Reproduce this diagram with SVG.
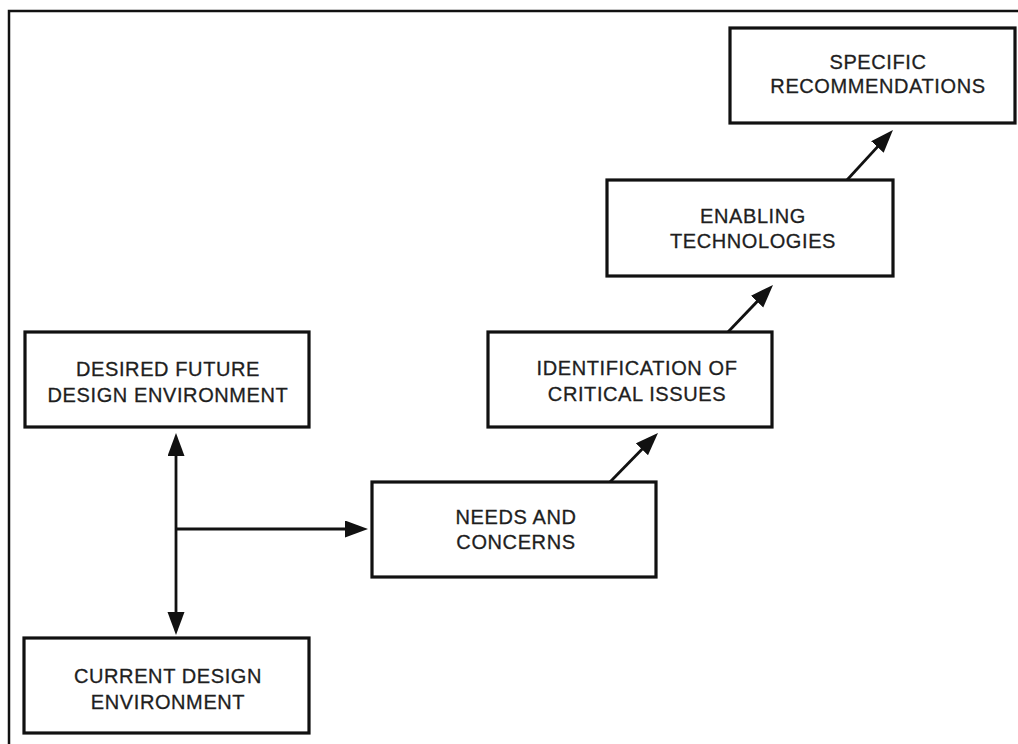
<svg xmlns="http://www.w3.org/2000/svg" width="1018" height="744" viewBox="0 0 1018 744">
<style>
.box{fill:#fff;stroke:#111;stroke-width:3.2}
.lbl{font-family:"Liberation Sans",Arial,sans-serif;font-size:20px;fill:#1e1e1e;stroke:#1e1e1e;stroke-width:0.3;text-anchor:middle;letter-spacing:0.6px}
.con{fill:none;stroke:#111;stroke-width:2.8}
.frame{fill:none;stroke:#111;stroke-width:2.5}
</style>
<defs>
<marker id="ah" markerUnits="userSpaceOnUse" markerWidth="25" markerHeight="19" refX="12" refY="8.5" orient="auto-start-reverse" viewBox="0 0 25 19">
<path d="M0,0 L23,8.5 L0,17 z" fill="#111"/>
</marker>
</defs>
<rect width="1018" height="744" fill="#fff"/>
<path class="frame" d="M9,744 V11 H1018"/>
<g id="connectors">
<path class="con" d="M176,444 V624" marker-start="url(#ah)" marker-end="url(#ah)"/>
<path class="con" d="M176,529 H357" marker-end="url(#ah)"/>
<path class="con" d="M610,482 L650.3,440.8" marker-end="url(#ah)"/>
<path class="con" d="M728,332 L765.4,292.9" marker-end="url(#ah)"/>
<path class="con" d="M847,180 L885.5,138.1" marker-end="url(#ah)"/>
</g>
<g id="desired">
<rect class="box" x="25" y="332" width="284" height="95"/>
<text class="lbl" x="168" y="376">DESIRED FUTURE</text>
<text class="lbl" x="168" y="402">DESIGN ENVIRONMENT</text>
</g>
<g id="current">
<rect class="box" x="24" y="638" width="285" height="95"/>
<text class="lbl" x="168" y="683">CURRENT DESIGN</text>
<text class="lbl" x="168" y="709">ENVIRONMENT</text>
</g>
<g id="needs">
<rect class="box" x="372" y="482" width="284" height="95"/>
<text class="lbl" x="516" y="524">NEEDS AND</text>
<text class="lbl" x="516" y="549">CONCERNS</text>
</g>
<g id="identification">
<rect class="box" x="488" y="332" width="284" height="95"/>
<text class="lbl" x="637" y="375">IDENTIFICATION OF</text>
<text class="lbl" x="637" y="401">CRITICAL ISSUES</text>
</g>
<g id="enabling">
<rect class="box" x="607" y="180" width="286" height="96"/>
<text class="lbl" x="753" y="223">ENABLING</text>
<text class="lbl" x="753" y="248">TECHNOLOGIES</text>
</g>
<g id="specific">
<rect class="box" x="730" y="28" width="285" height="95"/>
<text class="lbl" x="878" y="69">SPECIFIC</text>
<text class="lbl" x="878" y="93">RECOMMENDATIONS</text>
</g>
</svg>
